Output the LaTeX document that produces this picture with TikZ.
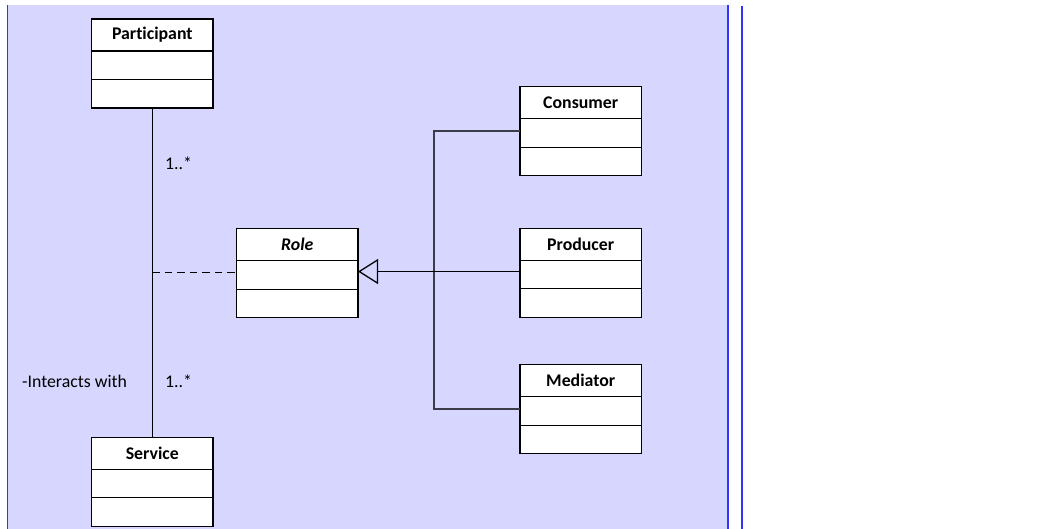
\documentclass[tikz,border=0pt]{standalone}
\usepackage{fontspec}
\setmainfont{Carlito}[Ligatures={NoCommon}]
\usetikzlibrary{arrows.meta,positioning}
\definecolor{lav}{RGB}{214,214,255}
\definecolor{edgeblue}{RGB}{51,51,255}
\definecolor{conngray}{RGB}{60,60,72}
\tikzset{
  hdr/.style={draw=black, fill=white, line width=1.3pt, minimum width=121.5pt, minimum height=32pt, inner sep=0pt, outer sep=0pt, anchor=north, font=\fontsize{17.8}{20}\selectfont\bfseries},
  cmp/.style={draw=black, fill=white, line width=1.3pt, minimum width=121.5pt, minimum height=28.5pt, inner sep=0pt, outer sep=0pt},
  conn/.style={draw=conngray, line width=1.2pt},
  lbl/.style={anchor=west, inner sep=0pt, font=\fontsize{17.8}{20}\selectfont}
}
\newcommand\umlclass[4]{%
  \node[hdr] (#1) at (#2,#3) {#4};
  \node[cmp, below=0pt of #1] (#1-a) {};
  \node[cmp, below=0pt of #1-a] (#1-o) {};
}
\begin{document}
\begin{tikzpicture}[x=1pt,y=-1pt]
\useasboundingbox (0,0) rectangle (1060,529);
\fill[lav] (7.5,5) rectangle (727.5,529);
\draw[edgeblue, line width=1.2pt] (7.5,5) -- (7.5,529);
\draw[edgeblue, line width=2pt] (727.8,5) -- (727.8,529);
\draw[edgeblue, line width=2pt] (742,6) -- (742,529);

\umlclass{Participant}{152.3}{19}{Participant}
\umlclass{Service}{152.3}{437.3}{Service}
\umlclass{Role}{297.3}{228.7}{\itshape Role}
\umlclass{Consumer}{580.7}{86.7}{Consumer}
\umlclass{Producer}{580.7}{228.3}{Producer}
\umlclass{Mediator}{580.7}{364.7}{Mediator}

% association
\draw[line width=1.2pt] (Participant-o.south) -- (Service.north);
\coordinate (assoc) at (152.3,272.5);
\draw[line width=1.2pt, dash pattern=on 7.5pt off 5pt] (assoc) -- (assoc -| Role-a.west);

% generalization
\coordinate (bus) at (434,272);
\draw[conn] ([yshift=2pt]Consumer-a.west) -| (bus) |- ([yshift=2pt]Mediator-a.west);
\coordinate (pl) at ([yshift=3pt]Producer-a.west);
\draw[line width=1.2pt, -{Triangle[open, length=20pt, width=25pt, line width=1.3pt]}] (pl) -- (pl -| Role-a.east);

% labels
\node[lbl] (m1) at (165,163) {1..*};
\node[lbl] (m2) at (165,381) {1..*};
\node[lbl] (iw) at (22,381) {-Interacts with};
\end{tikzpicture}
\end{document}
